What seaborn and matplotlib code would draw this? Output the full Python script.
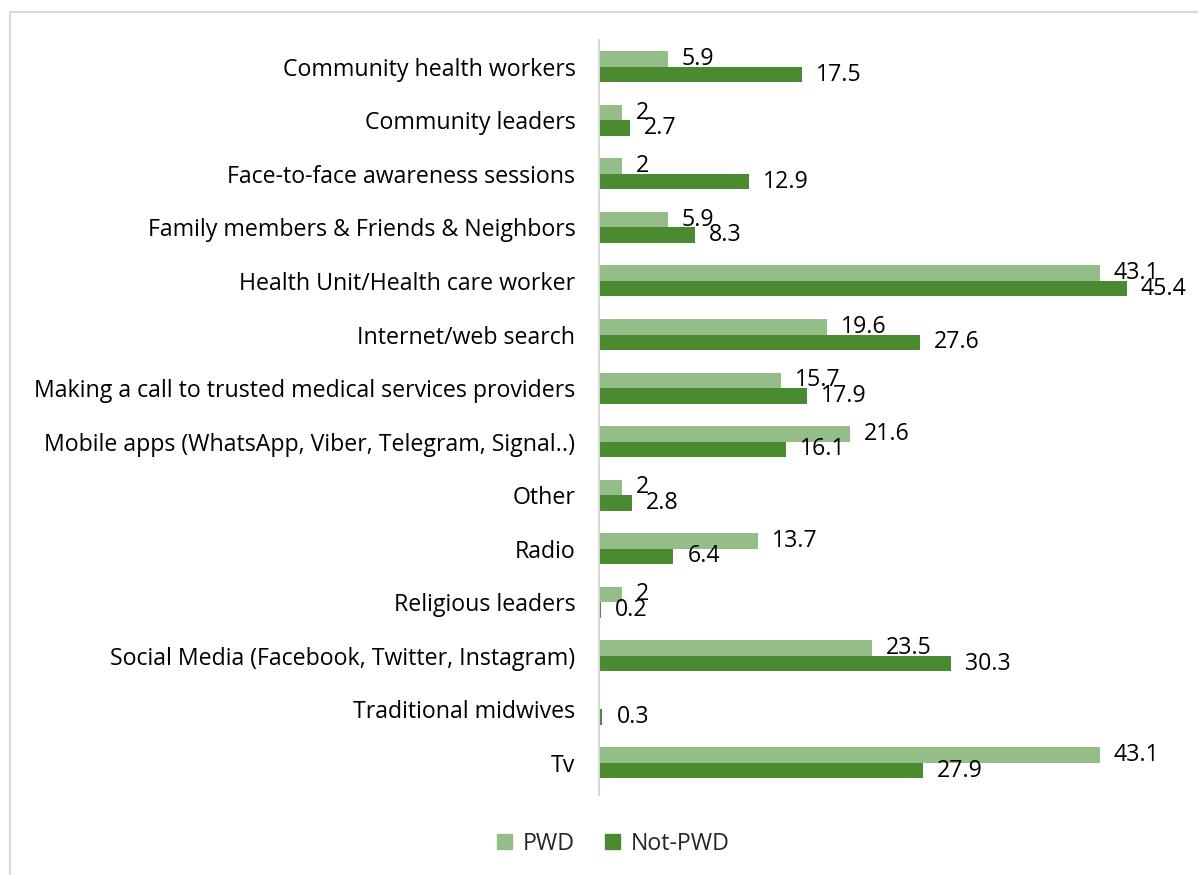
import matplotlib
matplotlib.use("Agg")
import matplotlib.pyplot as plt
import seaborn as sns
import pandas as pd
from matplotlib.patches import Rectangle

categories = [
    "Community health workers",
    "Community leaders",
    "Face-to-face awareness sessions",
    "Family members & Friends & Neighbors",
    "Health Unit/Health care worker",
    "Internet/web search",
    "Making a call to trusted medical services providers",
    "Mobile apps (WhatsApp, Viber, Telegram, Signal..)",
    "Other",
    "Radio",
    "Religious leaders",
    "Social Media (Facebook, Twitter, Instagram)",
    "Traditional midwives",
    "Tv",
]
pwd = [5.9, 2, 2, 5.9, 43.1, 19.6, 15.7, 21.6, 2, 13.7, 2, 23.5, None, 43.1]
not_pwd = [17.5, 2.7, 12.9, 8.3, 45.4, 27.6, 17.9, 16.1, 2.8, 6.4, 0.2, 30.3, 0.3, 27.9]
series = ["PWD", "Not-PWD"]
colors = ["#94BD88", "#4A8A30"]

df = pd.DataFrame({
    "category": categories * 2,
    "group": [series[0]] * len(categories) + [series[1]] * len(categories),
    "value": pwd + not_pwd,
})

sns.set_theme(style="white")
plt.rcParams["font.family"] = ["Open Sans", "DejaVu Sans"]
FS = 16.7

fig = plt.figure(figsize=(11.98, 8.75), dpi=100)
ax = fig.add_axes([0.5, 1 - 795 / 875, 0.485, 755 / 875])

sns.barplot(data=df, y="category", x="value", hue="group", order=categories,
            hue_order=series, palette=colors, orient="h", width=0.58,
            saturation=1, linewidth=0, ax=ax, legend=False)

for container in ax.containers:
    labels = ["" if pd.isna(v) else f"{v:g}" for v in container.datavalues]
    ax.bar_label(container, labels=labels, padding=10, fontsize=FS, color="#000000")

ax.set_xlim(0, 50)
ax.set_ylim(13.6, -0.5)
ax.set_xlabel("")
ax.set_ylabel("")
ax.set_xticks([])
ax.tick_params(axis="y", length=0, pad=17, labelsize=FS, labelcolor="#000000")
for side in ["top", "right", "bottom"]:
    ax.spines[side].set_visible(False)
ax.spines["left"].set_color("#D9D9D9")
ax.spines["left"].set_linewidth(1.5)

# legend below the plot
handles = [Rectangle((0, 0), 1, 1, color=c) for c in colors]
fig.legend(handles, series, loc="center", bbox_to_anchor=(0.512, 0.036), ncol=2,
           frameon=False, fontsize=FS, handlelength=0.65, handleheight=0.65,
           handletextpad=0.45, columnspacing=1.3)

# outer chart frame
fig.patches.append(Rectangle((10 / 1198, -0.1), 1.2, 1 - 12 / 875 + 0.1,
                             transform=fig.transFigure, fill=False,
                             edgecolor="#D9D9D9", linewidth=1.5))

fig.savefig("out.png", dpi=100)
